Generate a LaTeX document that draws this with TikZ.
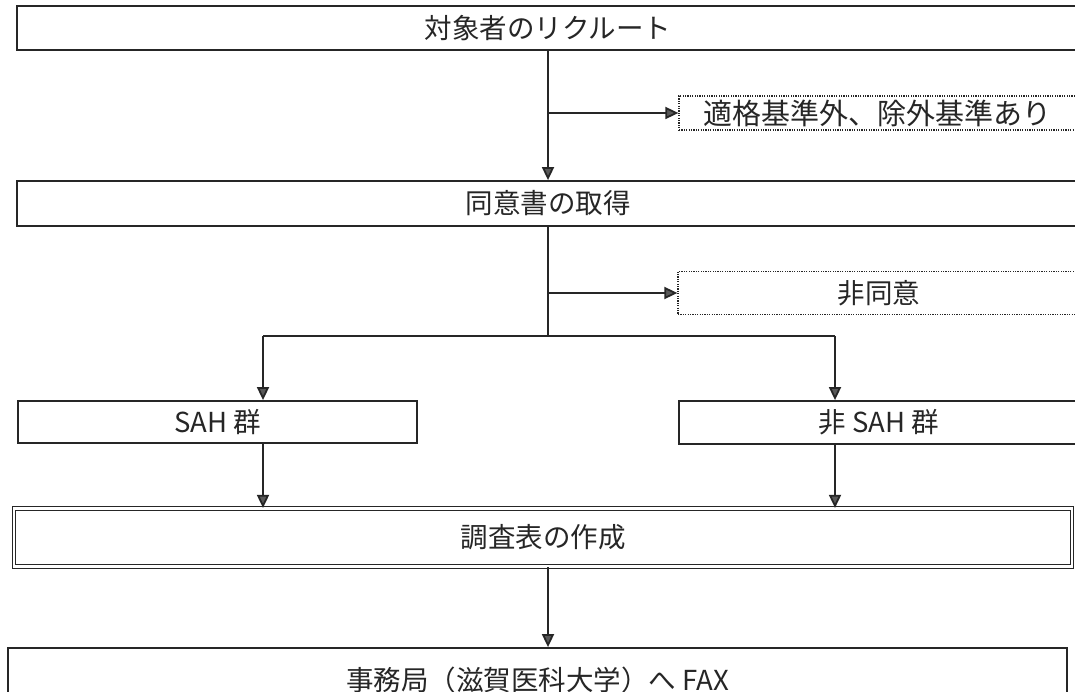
\documentclass[tikz,border=0pt]{standalone}
\usepackage{fontspec}
\setmainfont{Noto Sans CJK JP}
\usetikzlibrary{arrows.meta}
\tikzset{
  box/.style={draw=black!85, line width=1.8pt, inner sep=0pt, font=\fontsize{27.5}{30}\selectfont, text=black!85},
  dotbox/.style={draw=black!85, line width=1.3pt, dash pattern=on 1.2pt off 1.2pt, inner sep=0pt, font=\fontsize{27.5}{30}\selectfont, text=black!85},
  dblbox/.style={draw=black!85, double, double distance=2.2pt, line width=1.2pt, inner sep=0pt, font=\fontsize{27.5}{30}\selectfont, text=black!85},
  conn/.style={draw=black!85, line width=1.8pt},
  arr/.style={conn, -{Triangle[length=13pt,width=12pt,fill=black!65]}},
}
\begin{document}
\begin{tikzpicture}[x=1pt,y=-1pt]
\useasboundingbox[fill=white] (0,0) rectangle (1075,692);
\node[box, minimum width=1062pt, minimum height=44pt] (top) at (548,28) {対象者のリクルート};
\node[box, minimum width=1062pt, minimum height=45pt] (cons) at (548,203.5) {同意書の取得};
\node[dotbox, minimum width=397pt, minimum height=34pt] (excl) at (877.5,113) {\fontsize{29}{32}\selectfont 適格基準外、除外基準あり};
\node[dotbox, minimum width=402pt, minimum height=43pt] (nocons) at (879,293) {非同意};
\node[box, minimum width=399pt, minimum height=42pt] (sah) at (217.5,422) {SAH 群};
\node[box, minimum width=400pt, minimum height=43pt] (nsah) at (879,422.5) {非 SAH 群};
\node[dblbox, minimum width=1058pt, minimum height=58pt] (survey) at (543,537.5) {調査表の作成};
\node[box, minimum width=1059pt, minimum height=64pt] (fax) at (537.5,680) {事務局（滋賀医科大学）へ FAX};
\coordinate (j1) at (548,113);
\coordinate (j2) at (548,293);
\coordinate (j3) at (548,336);
\coordinate (la) at (263,336);
\coordinate (ra) at (835,336);
\draw[arr] (top.south) -- (cons.north);
\draw[arr] (j1) -- (excl.west);
\draw[conn] (cons.south) -- (j3);
\draw[arr] (j2) -- (nocons.west);
\draw[conn] (la) -- (ra);
\draw[arr] (la) -- (la |- sah.north);
\draw[arr] (ra) -- (ra |- nsah.north);
\draw[arr] (la |- sah.south) -- (la |- survey.north);
\draw[arr] (ra |- nsah.south) -- (ra |- survey.north);
\draw[arr] (survey.south -| j1) -- (fax.north -| j1);
\end{tikzpicture}
\end{document}
